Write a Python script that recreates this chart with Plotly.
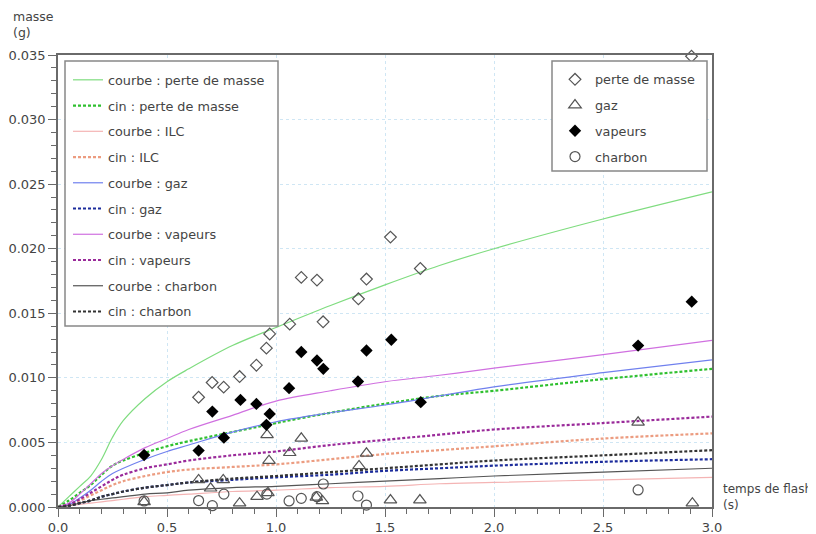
import plotly.graph_objects as go

# ---------------- data ----------------
# measured points (temps de flash s, masse g)
perte_t = [0.645, 0.707, 0.760, 0.833, 0.910, 0.956, 0.971, 1.063, 1.116, 1.188, 1.216, 1.378, 1.415, 1.525, 1.662, 2.906]
perte_m = [0.0085, 0.00964, 0.00928, 0.0101, 0.01098, 0.0123, 0.0134, 0.01416, 0.01778, 0.01757, 0.01434, 0.01612, 0.01765, 0.0209, 0.01847, 0.0349]

gaz_t = [0.395, 0.645, 0.700, 0.758, 0.833, 0.913, 0.959, 0.963, 0.968, 1.063, 1.116, 1.185, 1.213, 1.381, 1.415, 1.525, 1.660, 2.661, 2.910]
gaz_m = [0.0004, 0.0021, 0.00145, 0.0021, 0.0003, 0.0008, 0.00558, 0.0011, 0.00359, 0.0042, 0.00532, 0.00075, 0.00047, 0.00318, 0.00416, 0.00054, 0.00054, 0.00656, 0.0003]

vap_t = [0.395, 0.645, 0.708, 0.761, 0.837, 0.910, 0.956, 0.971, 1.060, 1.116, 1.188, 1.217, 1.376, 1.415, 1.529, 1.664, 2.661, 2.907]
vap_m = [0.00403, 0.00437, 0.00739, 0.00537, 0.00829, 0.00798, 0.00636, 0.00721, 0.0092, 0.0120, 0.01134, 0.0107, 0.00972, 0.01212, 0.01295, 0.00812, 0.0125, 0.0159]

charb_t = [0.395, 0.645, 0.708, 0.761, 0.958, 1.060, 1.116, 1.188, 1.217, 1.376, 1.415, 2.661]
charb_m = [0.00047, 0.0005, 0.0001, 0.001, 0.001, 0.00047, 0.00067, 0.0008, 0.00178, 0.00085, 0.00015, 0.00132]

# curves
curve_t = [0, 0.05, 0.1, 0.15, 0.2, 0.25, 0.3, 0.4, 0.5, 0.6, 0.8, 1.0, 1.25, 1.5, 1.75, 2.0, 2.5, 3.0]
courbe_perte = [0, 0.0008, 0.0016, 0.0024, 0.0037, 0.0054, 0.0067, 0.0084, 0.0097, 0.0107, 0.0125, 0.0139, 0.0156, 0.0172, 0.0187, 0.0200, 0.0223, 0.0244]
cin_perte = [0, 0.0005, 0.0011, 0.0017, 0.0025, 0.0032, 0.0036, 0.0042, 0.0047, 0.0051, 0.0058, 0.0065, 0.0073, 0.0080, 0.0086, 0.0090, 0.0099, 0.0107]
courbe_ilc = [0, 0.0001, 0.0002, 0.0003, 0.0004, 0.0005, 0.0006, 0.0008, 0.0009, 0.0010, 0.0012, 0.0013, 0.0015, 0.0016, 0.0018, 0.0019, 0.0021, 0.0023]
cin_ilc = [0, 0.0002, 0.0005, 0.0009, 0.0013, 0.0017, 0.0020, 0.0024, 0.0027, 0.0029, 0.0031, 0.0033, 0.0037, 0.0041, 0.0044, 0.0047, 0.0053, 0.0057]
courbe_gaz = [0, 0.0002, 0.0007, 0.0013, 0.0020, 0.0026, 0.0030, 0.0037, 0.0043, 0.0048, 0.0058, 0.0066, 0.0073, 0.0079, 0.0086, 0.0093, 0.0104, 0.0114]
cin_gaz = [0, 0.0001, 0.0003, 0.0005, 0.0008, 0.0010, 0.0012, 0.0015, 0.0017, 0.0019, 0.0021, 0.0023, 0.0025, 0.0028, 0.0030, 0.0032, 0.0035, 0.0037]
courbe_vap = [0, 0.0003, 0.0010, 0.0018, 0.0026, 0.0032, 0.0037, 0.0046, 0.0053, 0.0060, 0.0071, 0.0082, 0.0090, 0.0097, 0.0102, 0.01075, 0.0118, 0.0129]
cin_vap = [0, 0.0002, 0.0006, 0.0011, 0.0016, 0.0021, 0.0025, 0.0030, 0.0033, 0.0036, 0.0040, 0.0043, 0.0048, 0.0052, 0.0056, 0.0060, 0.0065, 0.0070]
courbe_charb = [0, 0.0001, 0.0003, 0.0005, 0.0006, 0.0007, 0.0008, 0.0010, 0.0011, 0.0013, 0.0015, 0.0016, 0.0018, 0.0020, 0.0022, 0.0024, 0.0027, 0.0030]
cin_charb = [0, 0.0001, 0.0003, 0.0005, 0.0008, 0.0010, 0.0012, 0.0015, 0.0017, 0.0019, 0.0022, 0.0024, 0.0027, 0.0030, 0.0033, 0.0036, 0.0040, 0.0044]

curve_names = ["courbe : perte de masse", "cin : perte de masse", "courbe : ILC", "cin : ILC",
               "courbe : gaz", "cin : gaz", "courbe : vapeurs", "cin : vapeurs",
               "courbe : charbon", "cin : charbon"]
curve_vals = [courbe_perte, cin_perte, courbe_ilc, cin_ilc, courbe_gaz, cin_gaz,
              courbe_vap, cin_vap, courbe_charb, cin_charb]
curve_colors = ["#7fdc7f", "#2fc02f", "#f4b4b4", "#ec9c80", "#7080ee", "#1c2c9c",
                "#d070e0", "#9a2a9a", "#555555", "#333333"]

FONT = "DejaVu Sans"
TXT = "#444444"

fig = go.Figure()
for i, (name, vals, col) in enumerate(zip(curve_names, curve_vals, curve_colors)):
    dotted = name.startswith("cin")
    fig.add_trace(go.Scatter(
        x=curve_t, y=vals, mode="lines", name=name, legend="legend",
        legendgroup=f"c{i}", line_shape="spline",
        line=dict(color=col, width=2.2 if dotted else 1.2,
                  dash="3px,2px" if dotted else "solid")))

mk_line = "#555555"
fig.add_trace(go.Scatter(x=perte_t, y=perte_m, mode="markers", name="perte de masse",
                         legend="legend2", legendgroup="m0", cliponaxis=False,
                         marker=dict(symbol="diamond-open", size=9, color=mk_line, line=dict(width=1.2, color=mk_line))))
fig.add_trace(go.Scatter(x=gaz_t, y=gaz_m, mode="markers", name="gaz",
                         legend="legend2", legendgroup="m1", cliponaxis=False,
                         marker=dict(symbol="triangle-up-open", size=11, color=mk_line, line=dict(width=1.2, color=mk_line))))
fig.add_trace(go.Scatter(x=vap_t, y=vap_m, mode="markers", name="vapeurs",
                         legend="legend2", legendgroup="m2", cliponaxis=False,
                         marker=dict(symbol="diamond", size=9.5, color="#000000", line=dict(width=0))))
fig.add_trace(go.Scatter(x=charb_t, y=charb_m, mode="markers", name="charbon",
                         legend="legend2", legendgroup="m3", cliponaxis=False,
                         marker=dict(symbol="circle-open", size=10, color=mk_line, line=dict(width=1.2, color=mk_line))))

# the page body adds an 8px offset; the figure is sized so that it fills the window
OFF = 8
W, H = 816 - OFF, 534 - OFF
L, R, T, B = 58 - OFF, 104, 55 - OFF, 27
pw, ph = W - L - R, H - T - B


def px(xref):  # reference window pixel -> paper x
    return (xref - OFF - L) / pw


def py(yref):  # reference window pixel -> paper y
    return (H - B - (yref - OFF)) / ph


grid = "#cfe6f4"
axis_common = dict(showline=True, linecolor="#6a6a6a", linewidth=1.5, mirror=True,
                   ticks="outside", ticklen=8, tickwidth=1.2, tickcolor="#6a6a6a",
                   showgrid=True, gridcolor=grid, griddash="dot", gridwidth=1,
                   zeroline=False, automargin=False,
                   tickfont=dict(family=FONT, size=13, color=TXT))

fig.update_layout(
    width=W, height=H, margin=dict(l=L, r=R, t=T, b=B, autoexpand=False),
    paper_bgcolor="white", plot_bgcolor="white",
    font=dict(family=FONT, size=13, color=TXT),
    xaxis=dict(range=[0, 3.0], dtick=0.5, tick0=0, tickformat=".1f",
               minor=dict(dtick=0.1, ticks="outside", ticklen=5, tickcolor="#6a6a6a", showgrid=False),
               **axis_common),
    yaxis=dict(range=[0, 0.035], dtick=0.005, tick0=0, tickformat=".3f",
               minor=dict(dtick=0.001, ticks="outside", ticklen=5, tickcolor="#6a6a6a", showgrid=False),
               **axis_common),
    legend=dict(x=px(68), y=py(65), xanchor="left", yanchor="top",
                bgcolor="rgba(0,0,0,0)", borderwidth=0, traceorder="grouped",
                tracegroupgap=6.1, font=dict(family=FONT, size=12.8, color=TXT)),
    legend2=dict(x=px(555), y=py(64.5), xanchor="left", yanchor="top",
                 bgcolor="rgba(0,0,0,0)", borderwidth=0, traceorder="grouped",
                 tracegroupgap=6.1, font=dict(family=FONT, size=12.8, color=TXT)),
    shapes=[
        dict(type="rect", xref="paper", yref="paper", x0=px(65), x1=px(278), y0=py(326), y1=py(61),
             fillcolor="white", line=dict(color="#888888", width=1.5), layer="above"),
        dict(type="rect", xref="paper", yref="paper", x0=px(552), x1=px(707), y0=py(171), y1=py(61),
             fillcolor="white", line=dict(color="#888888", width=1.5), layer="above"),
    ],
    annotations=[
        dict(text="masse<br>(g)", xref="paper", yref="paper", x=px(11), y=py(7),
             xanchor="left", yanchor="top", align="left", showarrow=False,
             font=dict(family=FONT, size=12.5, color=TXT)),
        dict(text="temps de flash<br>(s)", xref="paper", yref="paper", x=px(721), y=py(497),
             xanchor="left", yanchor="middle", align="left", showarrow=False,
             font=dict(family=FONT, size=12, color=TXT)),
    ],
    showlegend=True,
)

fig.write_html("out.html")
